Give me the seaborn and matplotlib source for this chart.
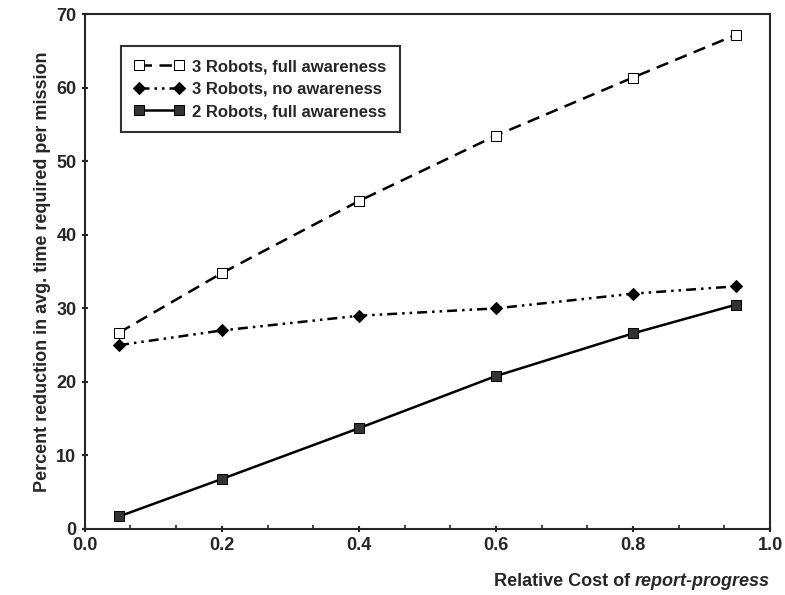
import matplotlib
matplotlib.use("Agg")
import matplotlib.pyplot as plt
import pandas as pd
import seaborn as sns
from matplotlib.ticker import FormatStrFormatter, MultipleLocator

# data
cost = [0.05, 0.2, 0.4, 0.6, 0.8, 0.95]
r3_full = [26.7, 34.8, 44.6, 53.5, 61.4, 67.2]
r3_none = [25.0, 27.0, 29.0, 30.0, 32.0, 33.0]
r2_full = [1.7, 6.8, 13.7, 20.8, 26.6, 30.5]
series_names = ["3 Robots, full awareness", "3 Robots, no awareness", "2 Robots, full awareness"]

df = pd.concat(
    [
        pd.DataFrame({"cost": cost, "pct": vals, "series": name})
        for name, vals in zip(series_names, [r3_full, r3_none, r2_full])
    ]
)

sns.set_style("ticks")
plt.rcParams["font.family"] = ["Liberation Sans", "DejaVu Sans"]
plt.rcParams["font.weight"] = "bold"

fig = plt.figure(figsize=(7.85, 5.95), dpi=100)
ax = fig.add_axes([0.108, 0.111, 0.873, 0.865])

sns.lineplot(
    data=df,
    x="cost",
    y="pct",
    hue="series",
    style="series",
    hue_order=series_names,
    style_order=series_names,
    palette=["black", "black", "black"],
    dashes={
        series_names[0]: (5, 3),
        series_names[1]: (4, 2, 1, 2, 1, 2),
        series_names[2]: "",
    },
    markers={series_names[0]: "s", series_names[1]: "D", series_names[2]: "s"},
    linewidth=1.8,
    markersize=7,
    legend=False,
    ax=ax,
)

lines = ax.get_lines()[:3]
for ln, name in zip(lines, series_names):
    ln.set_markeredgecolor("black")
    ln.set_label(name)
lines[0].set_markerfacecolor("white")
lines[1].set_markersize(6)
lines[2].set_markerfacecolor("#333333")

ax.set_xlim(0, 1.0)
ax.set_ylim(0, 70)
ax.xaxis.set_major_locator(MultipleLocator(0.2))
ax.xaxis.set_minor_locator(MultipleLocator(0.2 / 3))
ax.yaxis.set_major_locator(MultipleLocator(10))
ax.xaxis.set_major_formatter(FormatStrFormatter("%.1f"))
ax.tick_params(axis="both", labelsize=13, width=1.5, length=5, direction="inout")
ax.tick_params(axis="x", which="minor", length=3, width=1.2, direction="in")
for lab in ax.get_xticklabels() + ax.get_yticklabels():
    lab.set_fontweight("bold")
for sp in ax.spines.values():
    sp.set_visible(True)
    sp.set_linewidth(1.5)

ax.set_xlabel("")
ax.set_ylabel("Percent reduction in avg. time required per mission", fontsize=13, fontweight="bold")

# x label with italic part, right aligned under the axis
fig.canvas.draw()
t2 = ax.annotate("report-progress", xy=(1.0, -0.085), xycoords="axes fraction",
                 ha="right", va="top", fontsize=13, fontweight="bold", style="italic")
fig.canvas.draw()
bb = t2.get_window_extent()
ax.annotate("Relative Cost of ", xy=(bb.x0, bb.y1), xycoords="figure pixels",
            ha="right", va="top", fontsize=13, fontweight="bold")

leg = ax.legend(
    handles=lines,
    loc="upper left",
    bbox_to_anchor=(0.04, 0.955),
    fontsize=12,
    frameon=True,
    fancybox=False,
    edgecolor="black",
    handlelength=3.0,
    numpoints=2,
    borderpad=0.8,
    labelspacing=0.45,
    handletextpad=0.5,
)
leg.get_frame().set_linewidth(1.5)
for txt in leg.get_texts():
    txt.set_fontweight("bold")

fig.savefig("out.png", dpi=100)
